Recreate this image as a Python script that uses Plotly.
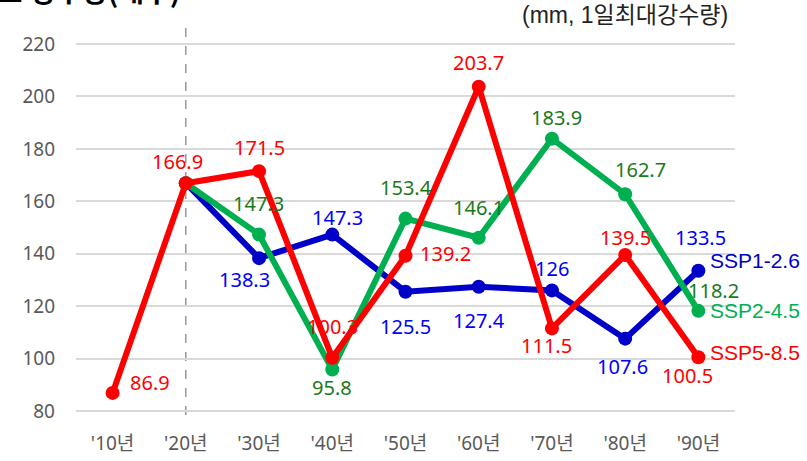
import plotly.graph_objects as go

categories = ["'10년", "'20년", "'30년", "'40년", "'50년", "'60년", "'70년", "'80년", "'90년"]
ssp126 = [None, 166.9, 138.3, 147.3, 125.5, 127.4, 126.0, 107.6, 133.5]
ssp245 = [None, 166.9, 147.3, 95.8, 153.4, 146.1, 183.9, 162.7, 118.2]
ssp585 = [86.9, 166.9, 171.5, 100.3, 139.2, 203.7, 111.5, 139.5, 100.5]
ssp126_text = [None, None, "138.3", "147.3", "125.5", "127.4", "126", "107.6", "133.5"]
ssp245_text = [None, None, "147.3", "95.8", "153.4", "146.1", "183.9", "162.7", "118.2"]
ssp585_text = ["86.9", "166.9", "171.5", "100.3", "139.2", "203.7", "111.5", "139.5", "100.5"]
names = ["SSP1-2.6", "SSP2-4.5", "SSP5-8.5"]
y_ticks = [80, 100, 120, 140, 160, 180, 200, 220]

# label offsets in pixels (dx, dy; dy positive = down)
off126 = [None, None, (-15, 21), (5, -17), (0, 35), (0, 34), (0, -22), (-3, 28), (2, -33)]
off245 = [None, None, (-1, -31), (0, 18), (0, -31), (0, -30), (5, -21), (15, -25), (15, -20)]
off585 = [(37, -10), (-8, -22), (0, -24), (0, -31), (40, -2), (0, -24), (-5, 17), (0, -18), (-11, 18)]

line_colors = ["#0000C8", "#00B050", "#FF0000"]
text_colors = ["#0000FF", "#1A7A1A", "#FF0000"]
name_colors = ["#0000C8", "#00B050", "#FF0000"]
name_dy = [-10, 0, -5]

NUMFONT = "Noto Sans, Noto Sans CJK KR"

fig = go.Figure()
series = [(ssp126, ssp126_text, off126), (ssp245, ssp245_text, off245), (ssp585, ssp585_text, off585)]
for i, (vals, texts, offs) in enumerate(series):
    fig.add_trace(go.Scatter(
        x=categories, y=vals, mode="lines+markers", name=names[i],
        line=dict(color=line_colors[i], width=6),
        marker=dict(color=line_colors[i], size=14),
        connectgaps=False, showlegend=False, hoverinfo="skip"))

annotations = []
for i, (vals, texts, offs) in enumerate(series):
    for c, v, t, o in zip(categories, vals, texts, offs):
        if t is None or v is None:
            continue
        annotations.append(dict(
            x=c, y=v, xref="x", yref="y", text=t, showarrow=False,
            xanchor="center", yanchor="middle", xshift=o[0], yshift=-o[1],
            font=dict(family=NUMFONT, size=20, color=text_colors[i])))
    annotations.append(dict(
        x=categories[-1], y=vals[-1], xref="x", yref="y", text=names[i], showarrow=False,
        xanchor="left", yanchor="middle", xshift=10, yshift=-name_dy[i],
        font=dict(family="Liberation Sans, Arial", size=21, color=name_colors[i])))

annotations.append(dict(
    x=0, y=1, xref="paper", yref="paper", text="<b>■ 강수량(대구)</b>", showarrow=False,
    xanchor="left", yanchor="bottom", xshift=-82, yshift=10,
    font=dict(family="Noto Sans CJK KR", size=28, color="#000000")))
annotations.append(dict(
    x=(730 - 76) / 659, y=1, xref="paper", yref="paper", text="(mm, 1일최대강수량)", showarrow=False,
    xanchor="right", yanchor="middle", yshift=7,
    font=dict(family="Liberation Sans, Noto Sans CJK KR", size=23, color="#222222")))

fig.add_shape(type="line", xref="x", yref="paper", x0=categories[1], x1=categories[1], y0=0, y1=1,
              line=dict(color="#7f7f7f", width=1.2, dash="dash"), layer="below")

fig.update_layout(
    width=807, height=461,
    margin=dict(l=76, r=72, t=22, b=46, autoexpand=False),
    plot_bgcolor="white", paper_bgcolor="white",
    annotations=annotations,
    xaxis=dict(type="category", categoryorder="array", categoryarray=categories,
               range=[-0.5, 8.5], showgrid=False, showline=False, ticks="", zeroline=False,
               automargin=False,
               tickfont=dict(family=NUMFONT, size=19, color="#595959"), ticklabelstandoff=15),
    yaxis=dict(range=[78.47, 228.4], tickvals=y_ticks, showgrid=True, gridcolor="#d9d9d9",
               gridwidth=2, zeroline=False, showline=False, ticks="", automargin=False,
               tickfont=dict(family=NUMFONT, size=19, color="#595959"), ticklabelstandoff=20),
)

fig.write_html("out.html", config={"displayModeBar": False},
               post_script="document.body.style.margin='0';document.body.style.overflow='hidden';")
